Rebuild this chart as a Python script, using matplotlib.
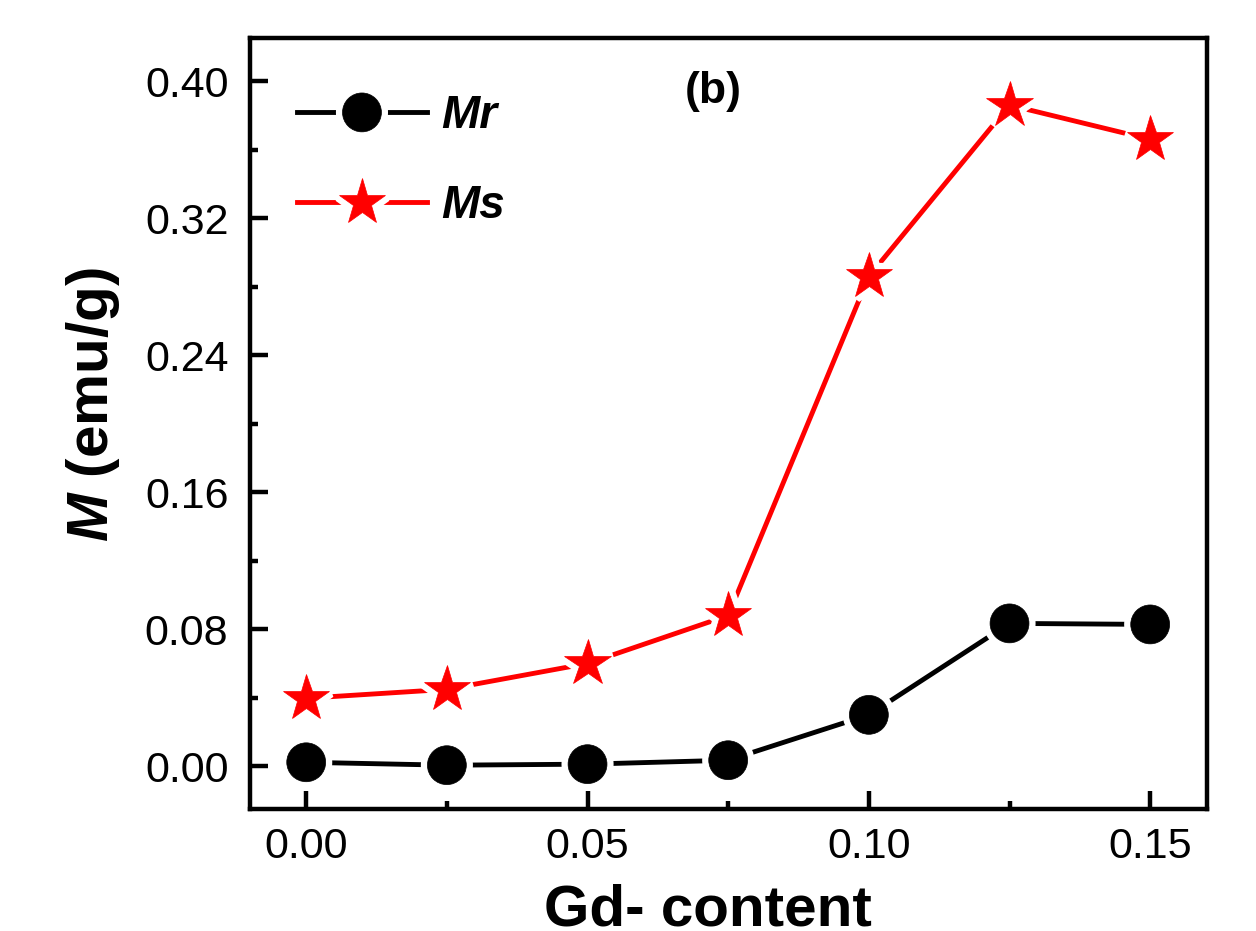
import matplotlib
matplotlib.use("Agg")
import matplotlib.pyplot as plt
import matplotlib.patheffects as pe
from matplotlib.ticker import MultipleLocator
from matplotlib.legend_handler import HandlerTuple

plt.rcParams['font.family'] = ['Liberation Sans', 'DejaVu Sans']
plt.rcParams['mathtext.fontset'] = 'custom'
plt.rcParams['mathtext.it'] = 'Liberation Sans:italic:bold'
plt.rcParams['mathtext.rm'] = 'Liberation Sans:bold'

gd_content = [0.0, 0.025, 0.05, 0.075, 0.10, 0.125, 0.15]
mr_values = [0.0023, 0.0006, 0.0012, 0.0035, 0.030, 0.0834, 0.0828]
ms_values = [0.0397, 0.0449, 0.0600, 0.0880, 0.2860, 0.3860, 0.3660]
x_ticks = [0.00, 0.05, 0.10, 0.15]
y_ticks = [0.00, 0.08, 0.16, 0.24, 0.32, 0.40]

fig = plt.figure(figsize=(12.56, 9.31), dpi=100)
ax = fig.add_axes([0.199, 0.131, 0.762, 0.828])

halo = [pe.Stroke(linewidth=9.5, foreground='white'), pe.Normal()]

mr_line, = ax.plot(gd_content, mr_values, color='black', lw=3.5, zorder=2)
mr_mark, = ax.plot(gd_content, mr_values, ls='none', marker='o', ms=28,
                   mfc='black', mec='black', mew=0.5, zorder=3, path_effects=halo)
ms_line, = ax.plot(gd_content, ms_values, color='red', lw=3.5, zorder=2)
ms_mark, = ax.plot(gd_content, ms_values, ls='none', marker='*', ms=35,
                   mfc='red', mec='red', mew=0.5, zorder=3, path_effects=halo)

ax.set_xlim(-0.01, 0.1601)
ax.set_ylim(-0.025, 0.4251)
ax.set_xticks(x_ticks)
ax.set_xticklabels([f"{v:.2f}" for v in x_ticks])
ax.set_yticks(y_ticks)
ax.set_yticklabels([f"{v:.2f}" for v in y_ticks])
ax.xaxis.set_minor_locator(MultipleLocator(0.025))
ax.yaxis.set_minor_locator(MultipleLocator(0.04))

ax.tick_params(which='major', direction='in', length=13, width=3.2, labelsize=31)
ax.tick_params(axis='x', which='major', pad=13)
ax.tick_params(axis='y', which='major', pad=15.5)
ax.tick_params(which='minor', direction='in', length=6, width=3.2)
ax.tick_params(top=False, right=False, which='both')
for s in ax.spines.values():
    s.set_linewidth(3.2)

ax.set_xlabel('Gd- content', fontsize=42, fontweight='bold')
ax.xaxis.set_label_coords((708 - 250) / 957, (809 - 883) / 771)
ax.set_ylabel(r'$M$ (emu/g)', fontsize=42, fontweight='bold')
ax.yaxis.set_label_coords((122 - 250) / 957, (809 - 405) / 771)

ax.text(713 / 1256, 1 - 92 / 931, '(b)', transform=fig.transFigure, fontsize=32,
        fontweight='bold', ha='center', va='center')

ax.legend([(mr_line, mr_mark), (ms_line, ms_mark)], ['Mr', 'Ms'],
          handler_map={tuple: HandlerTuple(ndivide=1)},
          loc='upper left', bbox_to_anchor=(0.0057, 0.9805), frameon=False,
          handlelength=2.85, handletextpad=0.3, labelspacing=1.0, numpoints=1,
          prop={'size': 33, 'weight': 'bold', 'style': 'italic'})

fig.savefig('out.png', dpi=100)
